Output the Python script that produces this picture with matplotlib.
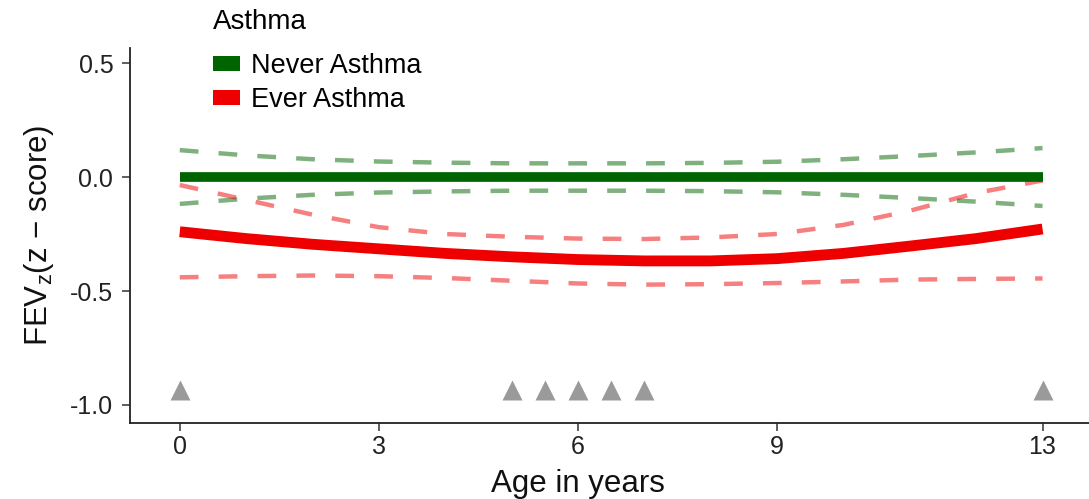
import matplotlib
matplotlib.use("Agg")
import matplotlib.pyplot as plt
from matplotlib.patches import Patch

plt.rcParams['font.family'] = ['Liberation Sans', 'DejaVu Sans']
plt.rcParams['mathtext.fontset'] = 'custom'
plt.rcParams['mathtext.rm'] = 'Liberation Sans'
plt.rcParams['mathtext.it'] = 'Liberation Sans'
plt.rcParams['lines.scale_dashes'] = False

# ---- data ----
age = [0, 1, 2, 3, 4, 5, 6, 7, 8, 9, 10, 11, 12, 13]
never_fit = [0, 0, 0, 0, 0, 0, 0, 0, 0, 0, 0, 0, 0, 0]
never_upper = [0.118, 0.095, 0.078, 0.068, 0.063, 0.060, 0.060, 0.060, 0.062, 0.067, 0.078, 0.092, 0.108, 0.127]
never_lower = [-0.118, -0.095, -0.078, -0.068, -0.063, -0.060, -0.060, -0.060, -0.062, -0.067, -0.078, -0.092, -0.108, -0.127]
ever_fit = [-0.24, -0.27, -0.295, -0.315, -0.335, -0.350, -0.362, -0.368, -0.368, -0.358, -0.335, -0.303, -0.270, -0.228]
ever_upper = [-0.035, -0.10, -0.165, -0.22, -0.25, -0.262, -0.27, -0.272, -0.265, -0.25, -0.21, -0.148, -0.07, -0.015]
ever_lower = [-0.44, -0.435, -0.432, -0.435, -0.443, -0.455, -0.467, -0.472, -0.47, -0.465, -0.458, -0.45, -0.447, -0.445]
visit_ages = [0, 5, 5.5, 6, 6.5, 7, 13]
visit_y = [-0.935] * len(visit_ages)
xticks = [0, 3, 6, 9, 13]
yticks = [0.5, 0.0, -0.5, -1.0]
ytick_labels = ['0.5', '0.0', '-0.5', '-1.0']
groups = ['Never Asthma', 'Ever Asthma']
colors = ['#006400', '#EE0000']

fig = plt.figure(figsize=(10.89, 4.99), dpi=100)
ax = fig.add_axes([130/1089, 1-423/499, 1-130/1089, (423-48)/499])

dash = (0, (13.5, 14.5))
ax.plot(age, never_upper, color=colors[0], alpha=0.5, lw=3.2, linestyle=dash, dash_capstyle='butt')
ax.plot(age, never_lower, color=colors[0], alpha=0.5, lw=3.2, linestyle=dash, dash_capstyle='butt')
ax.plot(age, ever_upper, color=colors[1], alpha=0.5, lw=3.2, linestyle=dash, dash_capstyle='butt')
ax.plot(age, ever_lower, color=colors[1], alpha=0.5, lw=3.2, linestyle=dash, dash_capstyle='butt')
ax.plot(age, never_fit, color=colors[0], lw=7, solid_capstyle='butt')
ax.plot(age, ever_fit, color=colors[1], lw=7.8, solid_capstyle='butt')
ax.plot(visit_ages, visit_y, linestyle='none', marker='^', ms=15, color='#9a9a9a', mec='none')

ax.set_xlim(-0.75, 13.7)
ax.set_ylim(-1.079, 0.566)
ax.set_xticks(xticks)
ax.set_xticklabels([str(t) for t in xticks])
ax.set_yticks(yticks)
ax.set_yticklabels(ytick_labels)
for s in ['top', 'right']:
    ax.spines[s].set_visible(False)
for s in ['left', 'bottom']:
    ax.spines[s].set_linewidth(1.3)
    ax.spines[s].set_color('#222222')
ax.tick_params(axis='both', direction='out', length=6, width=1.1, color='#333333',
               labelsize=18, labelcolor='#222222', pad=3)
ax.tick_params(axis='y', pad=6)

ax.set_xlabel('Age in years', fontsize=22.5, color='#111111')
ax.xaxis.set_label_coords((578-130)/(1089-130), -0.123)
ax.set_ylabel('FEV$_{\\mathrm{z}}$(z \u2212 score)', fontsize=22.5, color='#111111')
ax.yaxis.set_label_coords(-0.077, 0.5)

handles = [Patch(facecolor=c, edgecolor='none') for c in colors]
leg = fig.legend(handles, groups, title='Asthma', loc='upper left',
                 bbox_to_anchor=(194/1089, 1+10/499), frameon=False,
                 fontsize=19.5, title_fontsize=20, handlelength=1.0, handleheight=0.45,
                 handletextpad=0.4, labelspacing=0.3, borderpad=0.2)
leg._legend_box.align = 'left'
leg._legend_box.sep = leg._legend_box.sep + 7.2

fig.savefig('out.png', dpi=100)
